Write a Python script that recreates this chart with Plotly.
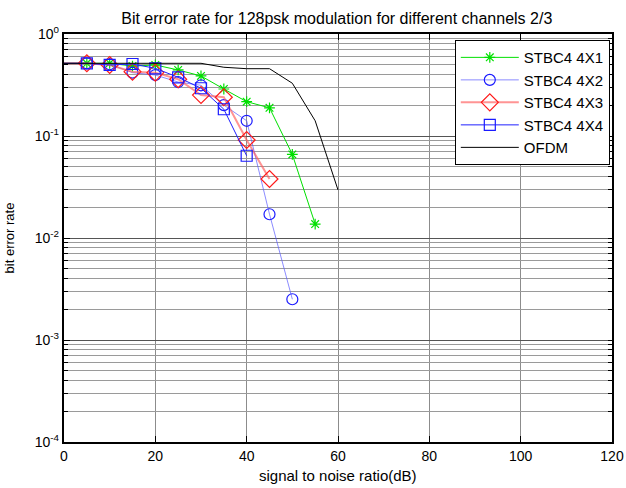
import plotly.graph_objects as go

# SNR points (dB)
snr = [0, 5, 10, 15, 20, 25, 30, 35, 40, 45, 50, 55, 60]

# Bit error rate per scheme
ber_4x1 = [0.516, 0.516, 0.516, 0.485, 0.497, 0.444, 0.388, 0.289, 0.217, 0.189, 0.066, 0.0137]
ber_4x2 = [0.516, 0.516, 0.505, 0.418, 0.396, 0.338, 0.314, 0.201, 0.141, 0.0171, 0.00251]
ber_4x3 = [0.516, 0.516, 0.497, 0.427, 0.418, 0.360, 0.252, 0.240, 0.0914, 0.0379]
ber_4x4 = [0.516, 0.516, 0.497, 0.508, 0.461, 0.376, 0.294, 0.183, 0.064]
ber_ofdm = [0.516, 0.516, 0.516, 0.516, 0.516, 0.512, 0.516, 0.472, 0.457, 0.457, 0.329, 0.141, 0.0296]

names = ["STBC4 4X1", "STBC4 4X2", "STBC4 4X3", "STBC4 4X4", "OFDM"]

# y tick labels (decades) and x ticks
decades = [-4, -3, -2, -1, 0]
decade_labels = ["10<sup>-4</sup>", "10<sup>-3</sup>", "10<sup>-2</sup>", "10<sup>-1</sup>", "10<sup>0</sup>"]
x_ticks = [0, 20, 40, 60, 80, 100, 120]

FONT = "Liberation Sans, Arial, sans-serif"

fig = go.Figure()

styles = [
    dict(line=dict(color="#00e000", width=1), marker=dict(symbol="asterisk-open", size=9, color="#00e000", line=dict(width=1.2, color="#00e000"))),
    dict(line=dict(color="rgba(90,90,255,0.7)", width=1), marker=dict(symbol="circle-open", size=11, color="#1a1aff", line=dict(width=1.2, color="#1a1aff"))),
    dict(line=dict(color="rgba(255,90,90,0.65)", width=2), marker=dict(symbol="diamond-open", size=13, color="#ff1a1a", line=dict(width=1.2, color="#ff1a1a"))),
    dict(line=dict(color="#2020ff", width=1), marker=dict(symbol="square-open", size=11, color="#1a1aff", line=dict(width=1.2, color="#1a1aff"))),
]
series = [ber_4x1, ber_4x2, ber_4x3, ber_4x4]

for name, ys, st in zip(names[:4], series, styles):
    xs = snr[:len(ys)]
    # leading segment from 0 dB, drawn without a marker
    fig.add_trace(go.Scatter(x=xs[:2], y=ys[:2], mode="lines", line=st["line"],
                             legendgroup=name, showlegend=False, hoverinfo="skip"))
    fig.add_trace(go.Scatter(x=xs[1:], y=ys[1:], mode="lines+markers", name=name,
                             legendgroup=name, line=st["line"], marker=st["marker"]))

fig.add_trace(go.Scatter(x=snr, y=ber_ofdm, mode="lines", name=names[4],
                         legendgroup=names[4], line=dict(color="black", width=1)))

minor_vals = []
for d in decades:
    for m in range(1, 10):
        v = m * 10 ** d
        if v <= 1.0:
            minor_vals.append(v)
minor_text = ["" for _ in minor_vals]

axis_common = dict(showline=True, linecolor="black", linewidth=2, mirror="ticks",
                   ticks="inside", tickcolor="black", zeroline=False, automargin=False,
                   tickfont=dict(family=FONT, size=14, color="black"))

fig.update_layout(
    width=626, height=488,
    margin=dict(l=64, r=14, t=34, b=46),
    paper_bgcolor="white", plot_bgcolor="white",
    title=dict(text="Bit error rate for 128psk modulation for different channels 2/3",
               x=0.538, xanchor="center", y=0.963, yanchor="middle",
               font=dict(family=FONT, size=16, color="black")),
    xaxis=dict(range=[0, 120], tickvals=x_ticks, ticklen=6,
               showgrid=True, gridcolor="#8c8c8c", gridwidth=1,
               **axis_common),
    yaxis=dict(type="log", range=[-4, 0], tickvals=minor_vals, ticktext=minor_text,
               ticklen=4, showgrid=True, gridcolor="#9a9a9a", gridwidth=1,
               title=dict(text="bit error rate", standoff=42,
                          font=dict(family=FONT, size=13, color="black")),
               **axis_common),
    yaxis2=dict(type="log", range=[-4, 0], overlaying="y", side="left",
                tickvals=[10 ** d for d in decades], ticktext=decade_labels,
                ticks="inside", ticklen=6, tickcolor="black", showgrid=True,
                gridcolor="#555555", gridwidth=1, showline=False, zeroline=False,
                automargin=False, ticklabelstandoff=4,
                tickfont=dict(family=FONT, size=14, color="black")),
    legend=dict(x=0.996, xanchor="right", y=0.985, yanchor="top",
                bgcolor="white", bordercolor="black", borderwidth=1,
                font=dict(family=FONT, size=15, color="black"),
                itemwidth=58, tracegroupgap=0),
    showlegend=True,
    annotations=[dict(text="signal to noise ratio(dB)", xref="paper", yref="paper",
                      x=0.5, y=-0.083, xanchor="center", yanchor="middle",
                      showarrow=False, font=dict(family=FONT, size=15, color="black"))],
)

# invisible trace to activate the decade axis
fig.add_trace(go.Scatter(x=[0], y=[1], yaxis="y2", mode="markers",
                         marker=dict(opacity=0), showlegend=False, hoverinfo="skip"))

fig.write_html("out.html")
